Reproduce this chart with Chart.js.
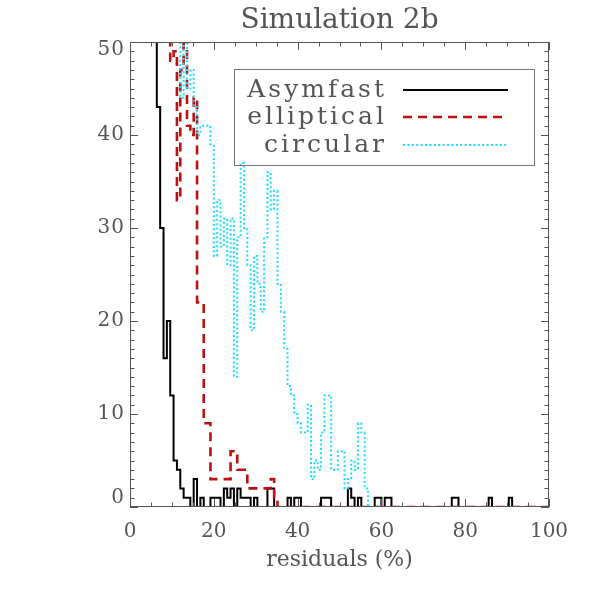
<!DOCTYPE html>
<html>
<head>
<meta charset="utf-8">
<script src="https://cdn.jsdelivr.net/npm/chart.js@4.4.0/dist/chart.umd.min.js"></script>
<style>
  html, body { margin: 0; padding: 0; background: #fff; }
  #wrap { width: 591px; height: 591px; }
</style>
</head>
<body>
<div id="wrap"><canvas id="chart"></canvas></div>
<script>
// histograms of the residuals, bins 0.8 % wide, each series listed from its first bin
const binWidth = 0.8;

const asymfastStart = 5.6;
const asymfast = [
  55, 43, 30, 16, 20, 12, 5, 4, 2, 1,
  1, 0, 3, 0, 1, 0, 0, 1, 1, 1,
  0, 2, 1, 2, 0, 2, 1, 1, 1, 0,
  1, 0, 0, 0, 2, 2, 0, 0, 0, 0,
  1, 0, 1, 1, 0, 0, 0, 0, 0, 0,
  1, 1, 1, 0, 0, 0, 0, 0, 2, 1,
  0, 1, 0, 0, 0, 0, 1, 1, 0, 1,
  1, 0, 0, 0, 0, 0, 0, 0, 0, 0,
  0, 0, 0, 0, 0, 0, 0, 0, 0, 1,
  1, 0, 0, 0, 0, 0, 0, 0, 0, 0,
  1, 0, 0, 0, 0, 0, 1, 0, 0, 0,
  0, 0, 0, 0, 0, 0, 0, 0
];

const ellipticalStart = 8.0;
const elliptical = [
  53, 53, 48, 49, 33, 47, 53, 41, 40, 44,
  22, 22, 9, 9, 3, 3, 3, 3, 3, 3,
  6, 6, 4, 4, 4, 2, 2, 2, 2, 2,
  2, 2, 3, 1, 0, 0, 0, 0, 0, 0,
  0, 0, 0, 0, 0, 0, 0, 0, 0, 0,
  0, 0, 0, 0, 0, 0, 0, 0, 0, 0,
  0, 0, 0, 0, 0, 0, 0, 0, 0, 0,
  0, 0, 0, 0, 0, 0, 0, 0, 0, 0,
  0, 0, 0, 0, 0, 0, 0, 0, 0, 0,
  0, 0, 0, 0, 0, 0, 0, 0, 0, 0,
  0, 0, 0, 0, 0, 0, 0, 0, 0, 0,
  0, 0, 0, 0, 0
];

const circularStart = 11.2;
const circular = [
  52, 44, 50, 45, 47, 43, 40, 41, 41, 41,
  39, 27, 33, 28, 31, 26, 31, 14, 29, 37,
  30, 26, 19, 27, 24, 21, 29, 36, 32, 34,
  24, 21, 17, 13, 12, 10, 9, 8, 8, 11,
  3, 5, 4, 8, 12, 12, 4, 4, 6, 6,
  2, 3, 5, 4, 9, 8, 2, 0, 0, 0,
  0, 0, 0, 0, 0, 0, 0, 0, 0, 0,
  0, 0, 0, 0, 0, 0, 0, 0, 0, 0,
  0, 0, 0, 0, 0, 0, 0, 0, 0, 0,
  0, 0, 0, 0, 0, 0, 0, 0, 0, 0,
  0, 0, 0, 0, 0, 0, 0, 0, 0, 0,
  0
];

const seriesNames = ['Asymfast', 'elliptical', 'circular'];
const xTicks = [0, 20, 40, 60, 80, 100];
const yTicks = [0, 10, 20, 30, 40, 50];

const ink = '#555';
const serif = "'DejaVu Serif', 'Liberation Serif', serif";

// one point per bin edge, the last one closes the final bin
function steps(start, counts) {
  const pts = counts.map((c, i) => ({ x: start + i * binWidth, y: c }));
  pts.push({ x: start + counts.length * binWidth, y: counts[counts.length - 1] });
  return pts;
}

const lineStyles = [
  { color: '#000000', width: 2, dash: [] },
  { color: '#bb1111', width: 2.6, dash: [9, 6] },
  { color: '#1edcff', width: 2, dash: [2, 2.4] }
];

// IDL-like frame: box with inward ticks on all four sides
const framePlugin = {
  id: 'frame',
  afterDatasetsDraw(chart) {
    const { ctx, chartArea: a, scales: { x, y } } = chart;
    ctx.save();
    ctx.strokeStyle = ink;
    ctx.lineWidth = 1;
    ctx.strokeRect(a.left + 0.5, a.top + 0.5, a.right - a.left - 1, a.bottom - a.top - 1);
    ctx.beginPath();
    for (let v = x.min; v <= x.max; v += 5) {
      const px = Math.round(x.getPixelForValue(v)) + 0.5;
      const len = v % 20 === 0 ? 8 : 4.5;
      ctx.moveTo(px, a.bottom); ctx.lineTo(px, a.bottom - len);
      ctx.moveTo(px, a.top); ctx.lineTo(px, a.top + len);
    }
    for (let v = y.min; v <= y.max; v += 1) {
      const py = Math.round(y.getPixelForValue(v)) + 0.5;
      const len = v % 10 === 0 ? 8 : 4.5;
      ctx.moveTo(a.left, py); ctx.lineTo(a.left + len, py);
      ctx.moveTo(a.right, py); ctx.lineTo(a.right - len, py);
    }
    ctx.stroke();

    // y labels, the end ones pulled inside the frame
    ctx.fillStyle = ink;
    ctx.font = '20px ' + serif;
    ctx.textAlign = 'right';
    ctx.textBaseline = 'middle';
    if ('letterSpacing' in ctx) ctx.letterSpacing = '1px';
    yTicks.forEach(v => {
      const py = Math.min(Math.max(y.getPixelForValue(v), a.top + 8), a.bottom - 9);
      ctx.fillText(String(v), a.left - 5, py);
    });
    ctx.restore();
  },
  afterDraw(chart) {
    const { ctx } = chart;
    ctx.save();
    ctx.strokeStyle = '#777';
    ctx.lineWidth = 1;
    ctx.strokeRect(234.5, 69.5, 300, 96);
    ctx.font = '25px ' + serif;
    ctx.fillStyle = ink;
    ctx.textAlign = 'right';
    ctx.textBaseline = 'alphabetic';
    if ('letterSpacing' in ctx) ctx.letterSpacing = '3px';
    const rows = [90, 117, 145];
    seriesNames.forEach((name, i) => {
      ctx.fillText(name, 387, rows[i] + 7);
      const s = lineStyles[i];
      ctx.beginPath();
      ctx.strokeStyle = s.color;
      ctx.lineWidth = s.width;
      ctx.setLineDash(s.dash);
      ctx.moveTo(403, rows[i]);
      ctx.lineTo(508, rows[i]);
      ctx.stroke();
    });
    ctx.restore();
  }
};

const datasets = [
  [asymfastStart, asymfast],
  [ellipticalStart, elliptical],
  [circularStart, circular]
].map(([start, counts], i) => ({
  label: seriesNames[i],
  data: steps(start, counts),
  stepped: 'before',
  borderColor: lineStyles[i].color,
  borderWidth: lineStyles[i].width,
  borderDash: lineStyles[i].dash,
  pointRadius: 0,
  fill: false,
  order: 3 - i
}));

Chart.defaults.font.family = serif;

new Chart(document.getElementById('chart'), {
  type: 'line',
  data: { datasets },
  options: {
    responsive: true,
    maintainAspectRatio: false,
    animation: false,
    events: [],
    layout: { padding: { left: 0, right: 42, top: 0, bottom: 0 } },
    plugins: {
      legend: { display: false },
      tooltip: { enabled: false },
      title: {
        display: true,
        fullSize: false,
        text: 'Simulation 2b',
        color: ink,
        font: { size: 28, weight: 'normal' },
        padding: { top: 4, bottom: 4.4 }
      }
    },
    scales: {
      x: {
        type: 'linear',
        min: 0,
        max: 100,
        grid: { display: false, drawTicks: false },
        border: { display: false },
        afterBuildTicks: s => { s.ticks = xTicks.map(v => ({ value: v })); },
        ticks: {
          color: ink,
          font: { size: 20 },
          padding: 13,
          maxRotation: 0,
          autoSkip: false
        },
        title: {
          display: true,
          text: 'residuals (%)',
          color: ink,
          font: { size: 22 },
          padding: { top: 0, bottom: 18 }
        },
        afterFit: s => { s.height = 84; }
      },
      y: {
        min: 0,
        max: 50,
        grid: { display: false, drawTicks: false },
        border: { display: false },
        ticks: { display: false, stepSize: 10 },
        afterFit: s => { s.width = 130; }
      }
    }
  },
  plugins: [framePlugin]
});
</script>
</body>
</html>
